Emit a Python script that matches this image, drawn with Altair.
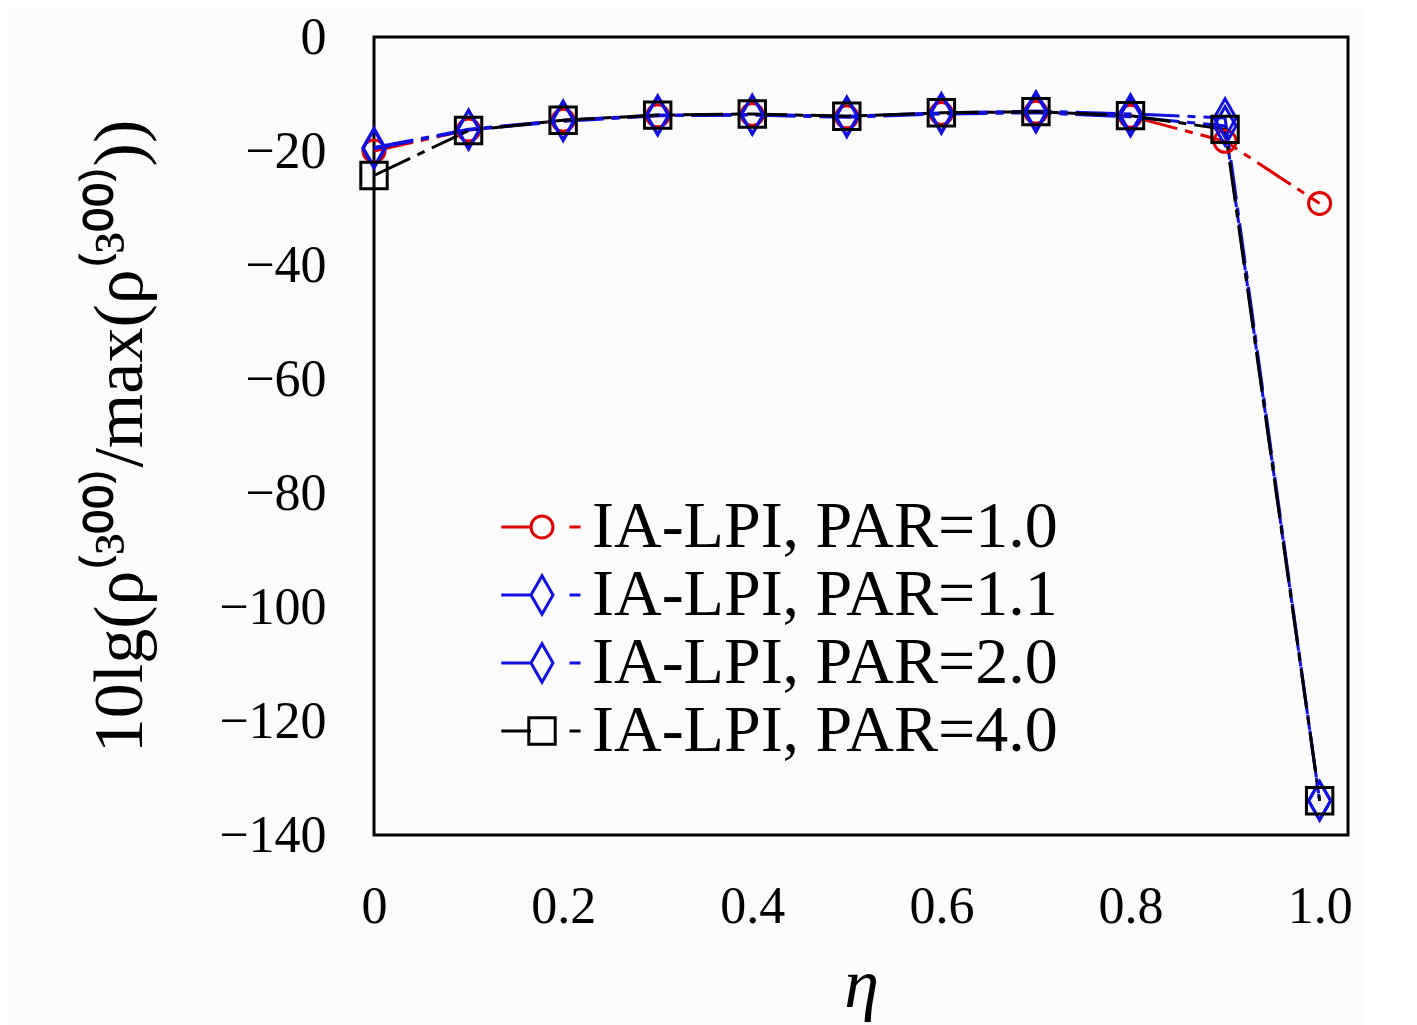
import altair as alt
import pandas as pd

eta = [0.0, 0.1, 0.2, 0.3, 0.4, 0.5, 0.6, 0.7, 0.8, 0.9, 1.0]
series_names = ["IA-LPI, PAR=1.0", "IA-LPI, PAR=1.1", "IA-LPI, PAR=2.0", "IA-LPI, PAR=4.0"]
par_10 = [-20.0, -16.3, -14.6, -13.8, -13.6, -14.0, -13.4, -13.2, -13.9, -18.3, -29.2]
par_11 = [-19.4, -16.2, -14.6, -13.7, -13.6, -13.9, -13.3, -13.0, -13.5, -14.2, -134.0]
par_20 = [-19.6, -16.3, -14.8, -13.8, -13.7, -14.1, -13.5, -13.3, -14.0, -15.6, -134.0]
par_40 = [-24.3, -16.4, -14.6, -13.7, -13.5, -13.9, -13.3, -13.1, -13.8, -16.2, -134.0]
x_ticks = [0, 0.2, 0.4, 0.6, 0.8, 1.0]
y_ticks = [-140, -120, -100, -80, -60, -40, -20, 0]

colors = ["#e00000", "#1010e0", "#1010e0", "#000000"]
circle = "M1,0A1,1 0 1,1 -1,0A1,1 0 1,1 1,0Z"
diamond = "M0,-1.75L1,0L0,1.75L-1,0Z"
square = "M-1.2,-1.2L1.2,-1.2L1.2,1.2L-1.2,1.2Z"
marker_paths = [circle, diamond, diamond, square]
legend_paths = [p + "M-3.7,0L-1,0M2.5,0L3.5,0" for p in marker_paths]

rows = []
for name, vals in zip(series_names, [par_10, par_11, par_20, par_40]):
    for e, v in zip(eta, vals):
        rows.append({"eta": e, "val": v, "series": name})
df = pd.DataFrame(rows)

FONT = "Liberation Serif"

x_enc = alt.X("eta:Q", scale=alt.Scale(domain=[0, 1.03], nice=False),
              axis=alt.Axis(values=x_ticks, title="η", titleFontStyle="italic", labelFlush=False,
                            labelExpr="datum.value == 0 ? '0' : format(datum.value, '.1f')"))
y_enc = alt.Y("val:Q", scale=alt.Scale(domain=[-140, 0], nice=False),
              axis=alt.Axis(values=y_ticks, title="10lg(ρ⁽³⁰⁰⁾/max(ρ⁽³⁰⁰⁾))", format="d",
                            labelFlush=False))

base = alt.Chart(df)

lines = base.mark_line(strokeWidth=3, strokeDash=[40, 8, 8, 8]).encode(
    x=x_enc, y=y_enc,
    color=alt.Color("series:N", scale=alt.Scale(domain=series_names, range=colors), legend=None),
    detail="series:N",
)

points = base.mark_point(filled=False, strokeWidth=3, size=484, opacity=1).encode(
    x=x_enc, y=y_enc,
    color=alt.Color("series:N", scale=alt.Scale(domain=series_names, range=colors), legend=None),
    shape=alt.Shape("series:N", scale=alt.Scale(domain=series_names, range=marker_paths), legend=None),
)

leg = dict(title=None, orient="none", legendX=135, legendY=457,
           symbolOpacity=1, symbolStrokeWidth=3, symbolSize=484,
           labelFont=FONT, labelFontSize=66, labelColor="black",
           labelOffset=17, rowPadding=2, labelLimit=800)

legend_layer = base.mark_point(filled=False, strokeWidth=3, size=484, opacity=0).encode(
    x=x_enc, y=y_enc,
    color=alt.Color("series:N", scale=alt.Scale(domain=series_names, range=colors),
                    legend=alt.Legend(**leg)),
    shape=alt.Shape("series:N", scale=alt.Scale(domain=series_names, range=legend_paths),
                    legend=alt.Legend(**leg)),
)

chart = alt.layer(lines, points, legend_layer).resolve_scale(
    color="independent", shape="independent"
).properties(
    width=974, height=798, background="#fbfbfb",
    padding={"left": 77, "top": 3, "right": 5, "bottom": 5}
).configure_view(
    stroke="black", strokeWidth=3
).configure_axis(
    labelFont=FONT, labelFontSize=52, labelColor="black", titleFont=FONT, titleFontSize=70,
    titleFontWeight="normal", titleColor="black", ticks=False, domain=False, grid=False,
).configure_axisY(
    labelPadding=48, titlePadding=62
).configure_axisX(
    labelPadding=46, titlePadding=19
)

chart.save("out.html", embed_options={"renderer": "svg", "actions": False})
